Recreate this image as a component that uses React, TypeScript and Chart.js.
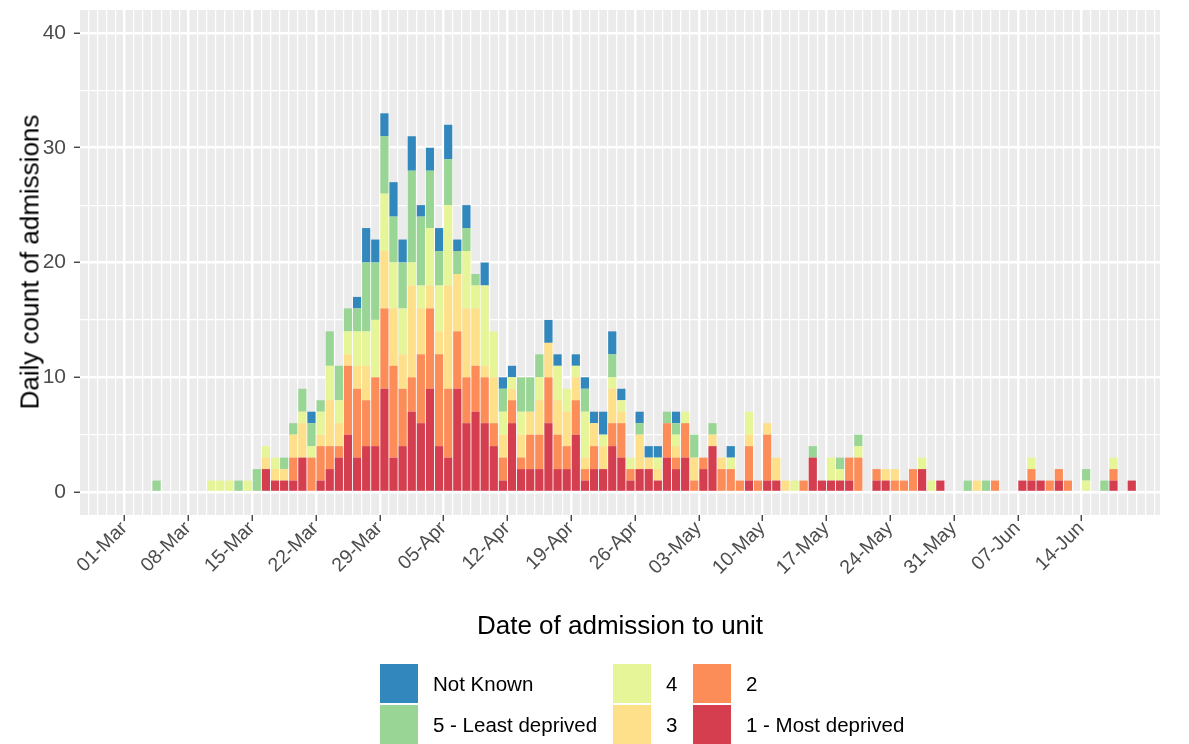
import React, { useEffect, useRef } from 'react';
import { Chart, registerables } from 'chart.js';

Chart.register(...registerables);

const FONT = '"Liberation Sans", Arial, Helvetica, sans-serif';

// Day offsets from 01-Mar (0) to 19-Jun (110)
const dayOffsets: number[] = Array.from({ length: 111 }, (_, i) => i);

const tickDays = [0, 7, 14, 21, 28, 35, 42, 49, 56, 63, 70, 77, 84, 91, 98, 105];
const tickLabels = ['01-Mar', '08-Mar', '15-Mar', '22-Mar', '29-Mar', '05-Apr', '12-Apr', '19-Apr', '26-Apr', '03-May', '10-May', '17-May', '24-May', '31-May', '07-Jun', '14-Jun'];

const yTicks = [0, 10, 20, 30, 40];

// 1 - Most deprived
const q1 = [
  0, 0, 0, 0, 0, 0, 0, 0, 0, 0,
  0, 0, 0, 0, 0, 2, 1, 1, 1, 3,
  0, 1, 2, 3, 5, 3, 4, 4, 9, 3,
  4, 7, 6, 9, 4, 3, 9, 6, 7, 6,
  4, 1, 6, 2, 2, 2, 6, 2, 2, 5,
  1, 2, 2, 4, 3, 1, 2, 2, 1, 3,
  2, 3, 0, 2, 4, 0, 0, 0, 1, 0,
  1, 1, 0, 0, 0, 3, 1, 1, 1, 1,
  0, 0, 1, 1, 0, 0, 0, 2, 0, 1,
  0, 0, 0, 0, 0, 0, 0, 0, 1, 1,
  1, 0, 1, 0, 0, 0, 0, 0, 1, 0, 1,
];
// 2
const q2 = [
  0, 0, 0, 0, 0, 0, 0, 0, 0, 0,
  0, 0, 0, 0, 0, 0, 0, 0, 2, 0,
  3, 3, 2, 1, 6, 6, 4, 6, 7, 8,
  5, 3, 6, 7, 8, 6, 5, 4, 4, 4,
  2, 2, 2, 1, 3, 3, 4, 3, 2, 3,
  1, 2, 0, 2, 3, 1, 0, 0, 0, 3,
  1, 3, 1, 1, 0, 2, 2, 1, 3, 1,
  4, 0, 0, 0, 1, 0, 0, 0, 0, 2,
  3, 0, 1, 0, 1, 1, 2, 0, 0, 0,
  0, 0, 0, 0, 0, 1, 0, 0, 0, 1,
  0, 1, 1, 1, 0, 0, 0, 0, 1, 0, 0,
];
// 3
const q3 = [
  0, 0, 0, 0, 0, 0, 0, 0, 0, 0,
  0, 0, 0, 0, 0, 1, 1, 1, 2, 3,
  0, 1, 4, 2, 1, 2, 3, 0, 5, 5,
  3, 8, 4, 2, 2, 9, 5, 6, 5, 1,
  4, 2, 1, 2, 2, 3, 3, 3, 3, 2,
  1, 2, 2, 3, 1, 0, 3, 1, 1, 0,
  1, 0, 2, 0, 1, 1, 0, 0, 1, 0,
  1, 2, 1, 0, 0, 0, 0, 0, 0, 0,
  0, 0, 0, 1, 1, 0, 0, 0, 0, 0,
  0, 0, 0, 1, 0, 0, 0, 0, 0, 0,
  0, 0, 0, 0, 0, 0, 0, 0, 0, 0, 0,
];
// 4
const q4 = [
  0, 0, 0, 0, 0, 0, 0, 0, 0, 1,
  1, 1, 0, 1, 0, 1, 1, 0, 0, 1,
  1, 2, 3, 2, 2, 3, 3, 5, 5, 4,
  4, 2, 2, 5, 4, 7, 0, 5, 2, 7,
  4, 2, 1, 2, 0, 2, 0, 3, 2, 1,
  4, 0, 1, 1, 1, 1, 0, 0, 1, 0,
  1, 1, 0, 0, 0, 0, 1, 0, 2, 0,
  0, 0, 0, 1, 0, 0, 0, 2, 1, 0,
  1, 0, 0, 0, 0, 0, 0, 1, 1, 0,
  0, 0, 0, 0, 0, 0, 0, 0, 0, 1,
  0, 0, 0, 0, 0, 1, 0, 0, 1, 0, 0,
];
// 5 - Least deprived
const q5 = [
  0, 0, 0, 1, 0, 0, 0, 0, 0, 0,
  0, 0, 1, 0, 2, 0, 0, 1, 1, 2,
  2, 1, 3, 3, 2, 2, 6, 5, 5, 4,
  4, 8, 6, 5, 3, 4, 2, 2, 1, 0,
  0, 2, 0, 3, 3, 2, 0, 0, 0, 0,
  2, 0, 0, 2, 0, 0, 1, 0, 0, 1,
  1, 0, 2, 0, 1, 0, 0, 0, 0, 0,
  0, 0, 0, 0, 0, 1, 0, 0, 1, 0,
  1, 0, 0, 0, 0, 0, 0, 0, 0, 0,
  0, 0, 1, 0, 1, 0, 0, 0, 0, 0,
  0, 0, 0, 0, 0, 1, 0, 1, 0, 0, 0,
];
// Not Known
const qNK = [
  0, 0, 0, 0, 0, 0, 0, 0, 0, 0,
  0, 0, 0, 0, 0, 0, 0, 0, 0, 0,
  1, 0, 0, 0, 0, 1, 3, 2, 2, 3,
  2, 3, 1, 2, 2, 3, 1, 2, 0, 2,
  0, 1, 1, 0, 0, 0, 2, 1, 0, 1,
  1, 1, 2, 2, 1, 0, 1, 1, 1, 0,
  1, 0, 0, 0, 0, 0, 1, 0, 0, 0,
  0, 0, 0, 0, 0, 0, 0, 0, 0, 0,
  0, 0, 0, 0, 0, 0, 0, 0, 0, 0,
  0, 0, 0, 0, 0, 0, 0, 0, 0, 0,
  0, 0, 0, 0, 0, 0, 0, 0, 0, 0, 0,
];

const seriesNames = ['1 - Most deprived', '2', '3', '4', '5 - Least deprived', 'Not Known'];
const seriesValues = [q1, q2, q3, q4, q5, qNK];
const seriesColors = ['#D53E4F', '#FC8D59', '#FEE08B', '#E6F598', '#99D594', '#3288BD'];

// legend layout: columns filled top-to-bottom
const legendColumns = [
  ['Not Known', '5 - Least deprived'],
  ['4', '3'],
  ['2', '1 - Most deprived'],
];

const panelBg = {
  id: 'panelBg',
  beforeDraw(chart: any) {
    const { ctx, chartArea } = chart;
    ctx.save();
    ctx.fillStyle = '#EBEBEB';
    ctx.fillRect(chartArea.left, chartArea.top, chartArea.right - chartArea.left, chartArea.bottom - chartArea.top);
    ctx.restore();
  },
};

export default function App() {
  const ref = useRef<HTMLCanvasElement>(null);

  useEffect(() => {
    if (!ref.current) return;
    const datasets = seriesNames.map((name, si) => ({
      label: name,
      data: dayOffsets.map((d, i) => ({ x: d, y: seriesValues[si][i] })),
      backgroundColor: seriesColors[si],
      borderWidth: 0,
      stack: 's',
      barPercentage: 0.9,
      categoryPercentage: 1,
    }));
    const chart = new Chart(ref.current, {
      type: 'bar',
      data: { datasets },
      plugins: [panelBg],
      options: {
        animation: false,
        responsive: false,
        layout: { padding: { top: 10, right: 29, left: 0, bottom: 0 } },
        plugins: { legend: { display: false }, tooltip: { enabled: false } },
        scales: {
          x: {
            type: 'linear',
            stacked: true,
            min: -5.4,
            max: 113.1,
            offset: false,
            afterBuildTicks: (scale: any) => {
              const t: any[] = [];
              for (let v = -5; v <= 113; v++) t.push({ value: v });
              scale.ticks = t;
            },
            afterFit: (scale: any) => {
              scale.height = 229;
              scale.paddingLeft = 0;
              scale.paddingRight = 0;
            },
            border: { display: false },
            grid: {
              color: '#FFFFFF',
              lineWidth: (ctx: any) => (ctx.tick && tickDays.includes(ctx.tick.value) ? 2.5 : 1.2),
              drawTicks: true,
              tickLength: 6,
              tickColor: (ctx: any) => (ctx.tick && tickDays.includes(ctx.tick.value) ? '#333333' : 'rgba(0,0,0,0)'),
              tickWidth: 1.3,
            },
            ticks: {
              autoSkip: false,
              maxRotation: 45,
              minRotation: 45,
              padding: -4,
              labelOffset: -5,
              color: '#4D4D4D',
              font: { family: FONT, size: 19.5 },
              callback: (v: any) => {
                const idx = tickDays.indexOf(Number(v));
                return idx >= 0 ? tickLabels[idx] : '';
              },
            },
          },
          y: {
            stacked: true,
            min: -2,
            max: 42,
            afterBuildTicks: (scale: any) => {
              scale.ticks = [0, 5, 10, 15, 20, 25, 30, 35, 40].map((v) => ({ value: v }));
            },
            afterFit: (scale: any) => {
              scale.width = 80;
              scale.paddingTop = 0;
              scale.paddingBottom = 0;
            },
            border: { display: false },
            grid: {
              color: '#FFFFFF',
              lineWidth: (ctx: any) => (ctx.tick && yTicks.includes(ctx.tick.value) ? 2.5 : 1.2),
              drawTicks: true,
              tickLength: 6,
              tickColor: (ctx: any) => (ctx.tick && yTicks.includes(ctx.tick.value) ? '#333333' : 'rgba(0,0,0,0)'),
              tickWidth: 1.3,
            },
            ticks: {
              autoSkip: false,
              padding: 8,
              color: '#4D4D4D',
              font: { family: FONT, size: 21 },
              callback: (v: any) => (yTicks.includes(Number(v)) ? String(v) : ''),
            },
          },
        },
      },
    } as any);
    return () => chart.destroy();
  }, []);

  const colorOf = (name: string) => seriesColors[seriesNames.indexOf(name)];
  const colLeft = [380, 613, 693];

  return (
    <div style={{ position: 'fixed', left: 0, top: 0, width: 1189, height: 744, background: '#FFFFFF', fontFamily: FONT, overflow: 'hidden' }}>
      <canvas ref={ref} width={1189} height={744} style={{ position: 'absolute', left: 0, top: 0, width: 1189, height: 744 }} />
      <div style={{ position: 'absolute', left: 30, top: 262, transform: 'translate(-50%, -50%) rotate(-90deg)', fontSize: 26, color: '#000', whiteSpace: 'nowrap' }}>
        Daily count of admissions
      </div>
      <div style={{ position: 'absolute', left: 620, top: 625, transform: 'translate(-50%, -50%)', fontSize: 26, color: '#000', whiteSpace: 'nowrap' }}>
        Date of admission to unit
      </div>
      {legendColumns.map((col, ci) =>
        col.map((name, ri) => (
          <div key={name} style={{ position: 'absolute', left: colLeft[ci], top: 664 + ri * 41, height: 39, display: 'flex', alignItems: 'center' }}>
            <div style={{ width: 38, height: 39, background: colorOf(name) }} />
            <div style={{ marginLeft: 15, fontSize: 20.5, color: '#000', whiteSpace: 'nowrap' }}>{name}</div>
          </div>
        ))
      )}
    </div>
  );
}
